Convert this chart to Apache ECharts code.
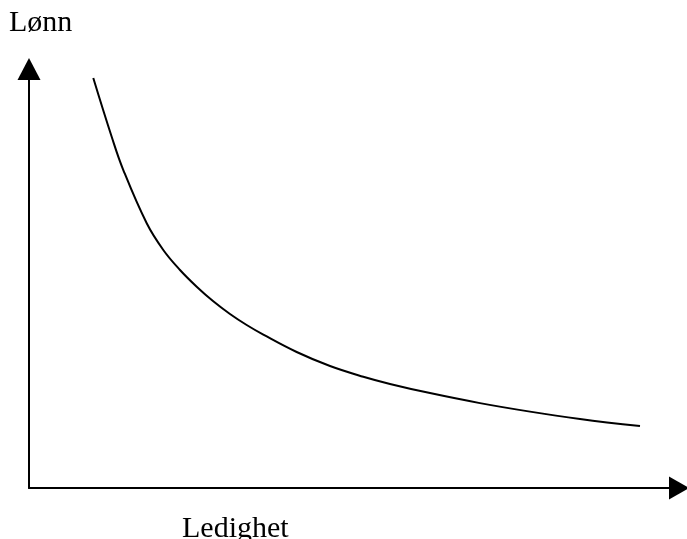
<!DOCTYPE html>
<html>
<head>
<meta charset="utf-8">
<script src="https://cdn.jsdelivr.net/npm/echarts@6/dist/echarts.min.js"></script>
<style>html,body{margin:0;padding:0;background:#fff}#c{width:687px;height:539px}</style>
</head>
<body>
<div id="c"></div>
<script>
var yLabel = 'Lønn';
var xLabel = 'Ledighet';
var curveX = [9.89, 12.72, 14.51, 18.11, 20.66, 23.23, 25.80, 28.35, 30.92, 33.49, 36.05, 41.18, 46.31, 51.43, 55.54, 61.69, 69.38, 77.08, 84.77, 94.00];
var curveY = [97.85, 83.84, 75.89, 63.17, 56.80, 52.03, 48.04, 44.56, 41.53, 38.90, 36.61, 32.46, 29.12, 26.56, 24.84, 22.65, 20.26, 18.23, 16.49, 14.77];

var data = curveX.map(function (x, i) { return [x, curveY[i]]; });
var chart = echarts.init(document.getElementById('c'), null, {renderer: 'canvas'});
var axisCommon = {
  type: 'value', min: 0, max: 100,
  splitLine: {show: false}, axisTick: {show: false}, axisLabel: {show: false},
  axisLine: {show: true, onZero: false, symbol: ['none', 'triangle'], symbolSize: [23, 22],
    lineStyle: {color: '#000', width: 2}}
};
chart.setOption({
  animation: false,
  backgroundColor: '#fff',
  grid: {left: 29, right: 8, top: 69, bottom: 51, containLabel: false},
  xAxis: Object.assign({}, axisCommon, {axisLine: Object.assign({}, axisCommon.axisLine, {symbolSize: [23, 20]})}),
  yAxis: axisCommon,
  series: [{
    type: 'line', data: data, smooth: 0.4, showSymbol: false,
    lineStyle: {color: '#000', width: 2}
  }],
  graphic: [
    {type: 'text', left: 9, top: 8, style: {text: yLabel, font: '30px "Liberation Serif"', fill: '#000'}},
    {type: 'text', left: 182, top: 514, style: {text: xLabel, font: '30px "Liberation Serif"', fill: '#000'}}
  ]
});
</script>
</body>
</html>
